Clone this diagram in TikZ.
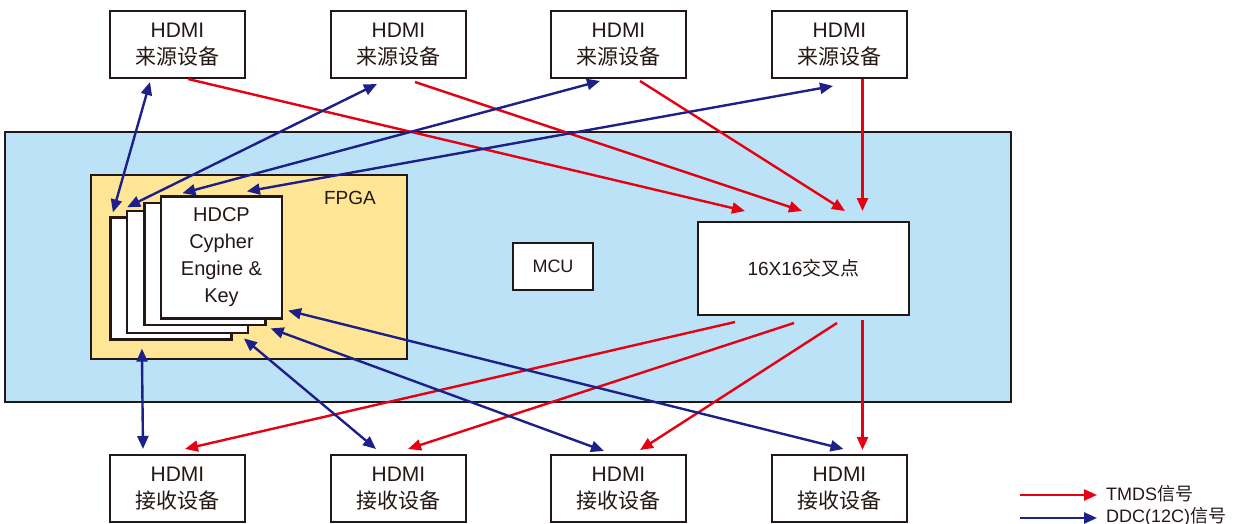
\documentclass[tikz,border=0pt]{standalone}
\usepackage{fontspec}
\setmainfont{Liberation Sans}
\newfontfamily\cjk{Noto Sans CJK SC}
\usetikzlibrary{arrows.meta,calc}
\definecolor{tred}{HTML}{E60012}
\definecolor{dblue}{HTML}{1D2088}
\definecolor{lblue}{HTML}{BCE2F7}
\definecolor{lyell}{HTML}{FFE697}
\definecolor{ink}{HTML}{231815}
\tikzset{
  box/.style={draw=ink,line width=2pt,fill=white,text=ink,align=center,inner sep=0pt,
    minimum width=135pt,minimum height=67pt,font=\fontsize{21}{27}\selectfont},
  card/.style={draw=ink,line width=2.2pt,fill=white,inner sep=0pt,
    minimum width=121pt,minimum height=122pt},
  tmds/.style={draw=tred,line width=2.4pt,-{Triangle[length=13pt,width=11pt]}},
  ddc/.style={draw=dblue,line width=2.4pt,{Triangle[length=13pt,width=11pt]}-{Triangle[length=13pt,width=11pt]}},
  ddcone/.style={draw=dblue,line width=2.4pt,-{Triangle[length=13pt,width=11pt]}},
}
\begin{document}
\begin{tikzpicture}[x=1pt,y=-1pt]
\useasboundingbox (0,0) rectangle (1240,524);
% main board
\node[draw=ink,line width=2pt,fill=lblue,inner sep=0pt,minimum width=1006pt,minimum height=270pt] (board) at (508,267) {};
% FPGA
\node[draw=ink,line width=2pt,fill=lyell,inner sep=0pt,minimum width=316pt,minimum height=184pt] (fpga) at (249,267) {};
\node[text=ink,font=\fontsize{19}{22}\selectfont] (fpgalbl) at (350,198) {FPGA};
% cards
\node[card] (c1) at (171,278.5) {};
\node[card] (c2) at (187.3,272.3) {};
\node[card] (c3) at (205,264.3) {};
\node[card,text=ink,align=center,font=\fontsize{20}{27}\selectfont] (c4) at (221.5,257.5) {HDCP\\Cypher\\Engine \&\\Key};
% MCU
\node[draw=ink,line width=2pt,fill=white,inner sep=0pt,minimum width=80pt,minimum height=47pt,text=ink,font=\fontsize{18}{22}\selectfont] (mcu) at (553,266.5) {MCU};
% crosspoint
\node[draw=ink,line width=2pt,fill=white,inner sep=0pt,minimum width=211pt,minimum height=93pt,text=ink,font=\fontsize{19}{22}\selectfont] (xp) at (803.5,268.5) {16X16{\cjk 交叉点}};
% sources
\node[box] (s1) at (177.5,44.5) {HDMI\\{\cjk 来源设备}};
\node[box] (s2) at (398.5,44.5) {HDMI\\{\cjk 来源设备}};
\node[box] (s3) at (618.5,44.5) {HDMI\\{\cjk 来源设备}};
\node[box] (s4) at (839.5,44.5) {HDMI\\{\cjk 来源设备}};
% sinks
\node[box] (r1) at (177.5,488.5) {HDMI\\{\cjk 接收设备}};
\node[box] (r2) at (398.5,488.5) {HDMI\\{\cjk 接收设备}};
\node[box] (r3) at (618.5,488.5) {HDMI\\{\cjk 接收设备}};
\node[box] (r4) at (839.5,488.5) {HDMI\\{\cjk 接收设备}};
% TMDS sources -> crosspoint
\draw[tmds] ($(s1.south)+(10.5,0)$) -- ($(xp.north)+(-58.5,-10)$);
\draw[tmds] ($(s2.south)+(16.5,3)$) -- ($(xp.north)+(-1.5,-10)$);
\draw[tmds] ($(s3.south)+(21.5,2)$) -- ($(xp.north)+(41.5,-10)$);
\draw[tmds] ($(s4.south)+(23,0)$) -- ($(xp.north)+(59,-10)$);
% TMDS crosspoint -> sinks
\draw[tmds] ($(xp.south)+(-68.5,6)$) -- ($(r1.north)+(7.5,-5)$);
\draw[tmds] ($(xp.south)+(-9.5,7)$) -- ($(r2.north)+(9.5,-5)$);
\draw[tmds] ($(xp.south)+(33.5,7)$) -- ($(r3.north)+(21.5,-4)$);
\draw[tmds] ($(xp.south)+(59,4)$) -- ($(r4.north)+(23,-4)$);
% DDC sources <-> cards
\draw[ddc] ($(s1.south)+(-27.5,3)$) -- ($(c1.north west)+(3.5,-4)$);
\draw[ddc] ($(s2.south)+(-21.5,5)$) -- ($(c2.north west)+(1.5,-3)$);
\draw[ddc] ($(s3.south)+(-18.5,2)$) -- ($(c3.north west)+(39,-9)$);
\draw[ddc] ($(s4.south)+(-6.5,7)$) -- ($(c4.north west)+(87,-4)$);
% DDC cards <-> sinks
\draw[ddc] ($(c1.south west)+(32.5,8)$) -- ($(r1.north)+(-34.5,-5)$);
\draw[ddc] ($(c2.south east)+(-5,4)$) -- ($(r2.north)+(-22.5,-5)$);
\draw[ddc] ($(c3.south east)+(4,2)$) -- ($(r3.north)+(-14.5,-3)$);
\draw[ddc] ($(c4.south east)+(5,-9)$) -- ($(r4.north)+(4,-5)$);
% legend
\coordinate (la1) at (1020,495);
\coordinate (la2) at (1097,495);
\coordinate (lb1) at (1020,518);
\coordinate (lb2) at (1097,518);
\draw[tmds] (la1) -- (la2);
\draw[ddcone] (lb1) -- (lb2);
\node[anchor=west,inner sep=0pt,text=ink,font=\fontsize{18}{20}\selectfont] (lga) at (1106,494) {TMDS{\cjk 信号}};
\node[anchor=west,inner sep=0pt,text=ink,font=\fontsize{18}{20}\selectfont] (lgb) at (1106,517) {DDC(12C){\cjk 信号}};
\end{tikzpicture}
\end{document}
